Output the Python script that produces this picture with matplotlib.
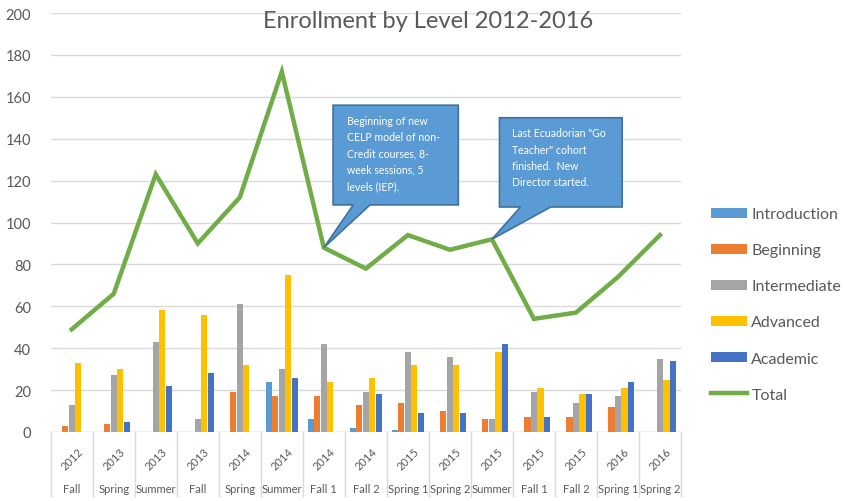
import matplotlib
matplotlib.use("Agg")
import matplotlib.pyplot as plt
import matplotlib.transforms as mtransforms
from matplotlib.patches import Polygon, Patch
from matplotlib.lines import Line2D
import numpy as np

plt.rcParams['font.family'] = ['Lato', 'DejaVu Sans']

years = ["2012", "2013", "2013", "2013", "2014", "2014", "2014", "2014",
         "2015", "2015", "2015", "2015", "2015", "2016", "2016"]
terms = ["Fall", "Spring", "Summer", "Fall", "Spring", "Summer", "Fall 1", "Fall 2",
         "Spring 1", "Spring 2", "Summer", "Fall 1", "Fall 2", "Spring 1", "Spring 2"]

introduction = [0, 0, 0, 0, 0, 24, 6, 2, 1, 0, 0, 0, 0, 0, 0]
beginning    = [3, 4, 0, 0, 19, 17, 17, 13, 14, 10, 6, 7, 7, 12, 0]
intermediate = [13, 27, 43, 6, 61, 30, 42, 19, 38, 36, 6, 19, 14, 17, 35]
advanced     = [33, 30, 58, 56, 32, 75, 24, 26, 32, 32, 38, 21, 18, 21, 25]
academic     = [0, 5, 22, 28, 0, 26, 0, 18, 9, 9, 42, 7, 18, 24, 34]
total        = [49, 66, 123, 90, 112, 172, 88, 78, 94, 87, 92, 54, 57, 74, 94]

series_names = ["Introduction", "Beginning", "Intermediate", "Advanced", "Academic"]
series_vals = [introduction, beginning, intermediate, advanced, academic]
colors = ["#5B9BD5", "#ED7D31", "#A5A5A5", "#FFC000", "#4472C4"]
line_color = "#70AD47"

title = "Enrollment by Level 2012-2016"
note1 = "Beginning of new\nCELP model of non-\nCredit courses, 8-\nweek sessions, 5\nlevels (IEP)."
note2 = "Last Ecuadorian \"Go\nTeacher\" cohort\nfinished.  New\nDirector started."
note1_idx = 6
note2_idx = 10

W, H = 843, 502
fig = plt.figure(figsize=(W / 100, H / 100), dpi=100)
ax = fig.add_axes([50.7 / W, (H - 433) / H, (681 - 50.7) / W, 419 / H])

x = np.arange(len(terms))
bw = 0.155
for k, (name, vals, c) in enumerate(zip(series_names, series_vals, colors)):
    ax.bar(x + (k - 2) * bw, vals, width=bw * 0.95, color=c, label=name, zorder=2)
ax.plot(x, total, color=line_color, lw=3.2, zorder=3, solid_joinstyle='miter', label="Total")

ax.set_xlim(-0.5, len(terms) - 0.5)
ax.set_ylim(0, 200)
ax.set_yticks(np.arange(0, 201, 20))
ax.yaxis.grid(True, color="#D9D9D9", lw=1)
ax.set_axisbelow(True)
ax.tick_params(axis='y', length=0, pad=14, labelsize=10.5, labelcolor="#595959")
ax.set_xticks([])
for s in ax.spines.values():
    s.set_visible(False)
ax.axhline(0, color="#D9D9D9", lw=1, zorder=1)

# multi-level category axis
trans = mtransforms.blended_transform_factory(ax.transData, ax.transAxes)
for i in range(len(terms)):
    ax.text(x[i], -0.062, years[i], transform=trans, rotation=45, ha='center', va='center',
            fontsize=8, color="#595959")
    ax.text(x[i], -0.136, terms[i], transform=trans, ha='center', va='center',
            fontsize=8, color="#595959")
for b in np.arange(-0.5, len(terms), 1.0):
    ax.add_line(Line2D([b, b], [0, -0.153], transform=trans, color="#D9D9D9", lw=1, clip_on=False))

fig.text(428 / W, 1 - 22 / H, title, ha='center', va='center', fontsize=17, color="#595959")

# callouts
def callout(idx, box, base, text, tx, ty):
    tip = (idx, total[idx])
    x0, x1, y0, y1 = box
    pts = [(x0, y0), (x0, y1), (x1, y1), (x1, y0), (base[1], y0), tip, (base[0], y0)]
    ax.add_patch(Polygon(pts, closed=True, facecolor="#5B9BD5", edgecolor="#41719C",
                         lw=1.2, zorder=5, clip_on=False))
    ax.text(tx, ty, text, ha='left', va='top', fontsize=7.6, color="white", zorder=6,
            linespacing=1.6)

callout(note1_idx, (6.22, 9.20, 108.4, 156), (6.70, 7.10), note1, 6.55, 151.5)
callout(note2_idx, (10.18, 13.10, 107.4, 150), (10.68, 11.40), note2, 10.48, 145.5)

handles = [Patch(facecolor=c) for c in colors] + [Line2D([0], [0], color=line_color, lw=3.2)]
leg = fig.legend(handles, series_names + ["Total"], loc='upper left',
                 bbox_to_anchor=(697 / W, 1 - 194 / H), frameon=False, fontsize=11.5,
                 labelspacing=1.38, handlelength=2.2, handleheight=0.6, handletextpad=0.3,
                 labelcolor="#595959")

fig.savefig("out.png", dpi=100)
